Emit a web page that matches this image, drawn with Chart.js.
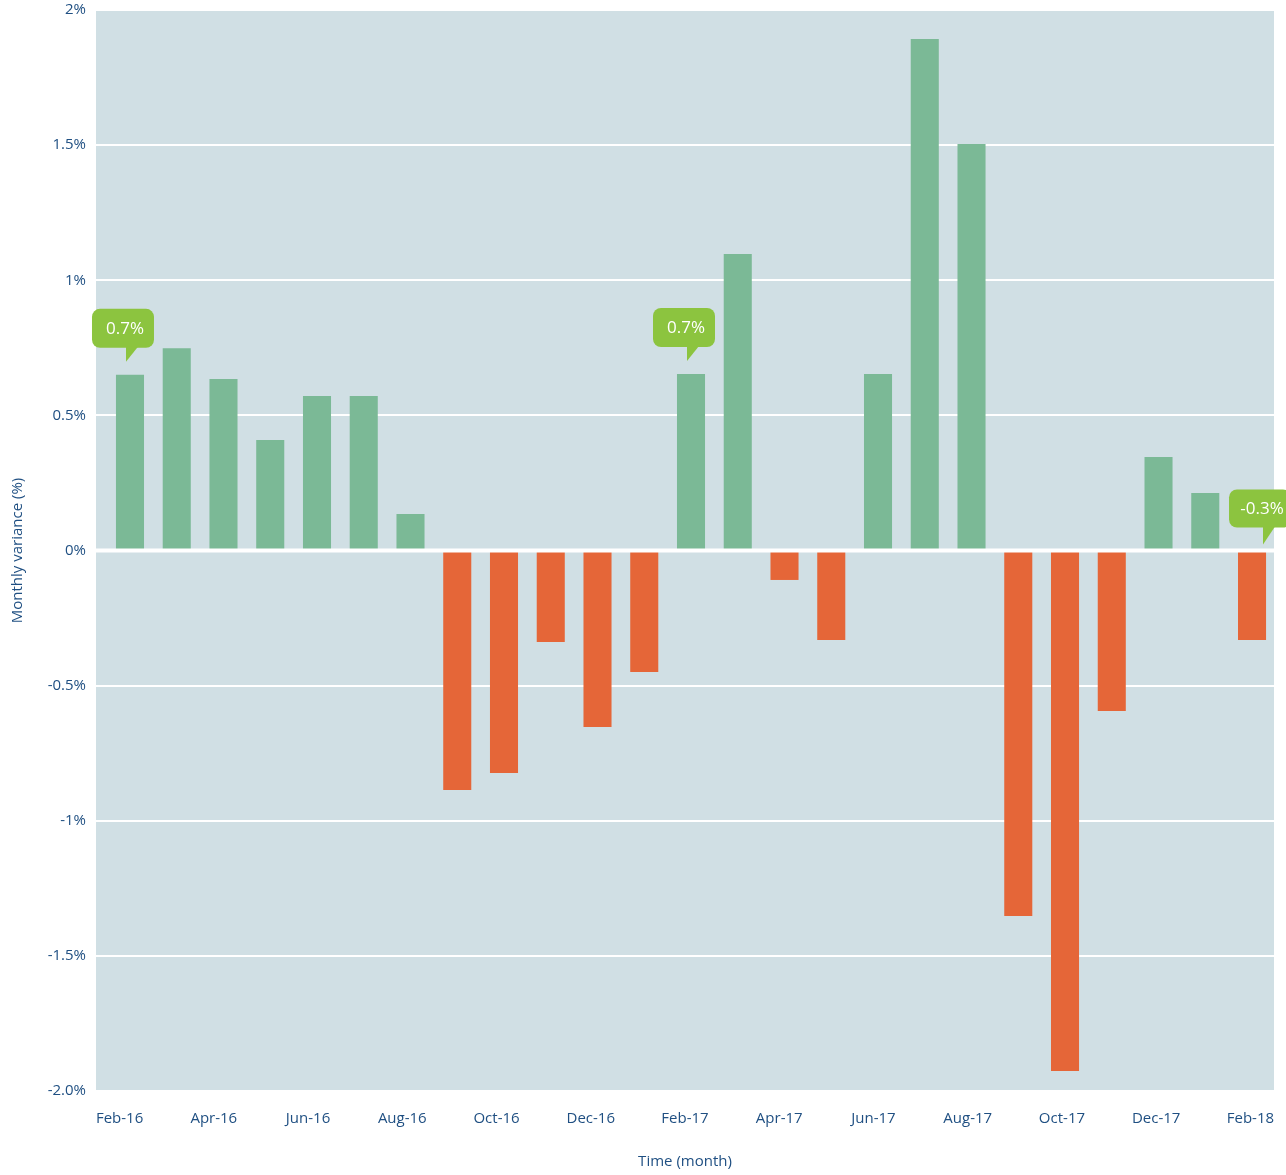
<!DOCTYPE html>
<html>
<head>
<meta charset="utf-8">
<script src="https://cdn.jsdelivr.net/npm/chart.js@4.4.0/dist/chart.umd.min.js"></script>
<style>
  html, body { margin: 0; padding: 0; background: #fff; }
  #wrap { width: 1286px; height: 1175px; }
</style>
</head>
<body>
<div id="wrap"><canvas id="varianceChart"></canvas></div>
<script>
// Months shown on the x axis (every other one is labelled)
const months = ['Feb-16', 'Mar-16', 'Apr-16', 'May-16', 'Jun-16', 'Jul-16', 'Aug-16', 'Sep-16',
    'Oct-16', 'Nov-16', 'Dec-16', 'Jan-17', 'Feb-17', 'Mar-17', 'Apr-17', 'May-17', 'Jun-17',
    'Jul-17', 'Aug-17', 'Sep-17', 'Oct-17', 'Nov-17', 'Dec-17', 'Jan-18', 'Feb-18'];

// Monthly variance in %
const variance = [0.65, 0.748, 0.635, 0.409, 0.572, 0.572, 0.135, -0.886,
    -0.823, -0.339, -0.653, -0.45, 0.653, 1.097, -0.109, -0.331, 0.653,
    1.893, 1.504, -1.352, -1.926, -0.594, 0.346, 0.213, -0.331];

const yTickLabels = ['-2.0%', '-1.5%', '-1%', '-0.5%', '0%', '0.5%', '1%', '1.5%', '2%'];

// Callout bubbles
const calloutIndex = [0, 12, 24];
const calloutText = ['0.7%', '0.7%', '-0.3%'];

const textColor = '#1f4f82';
const green = '#7bb996';
const red = '#e56638';

// Plot background + white zero line + callouts
const decorations = {
    id: 'decorations',
    beforeDraw(chart) {
        const { ctx, chartArea: a } = chart;
        ctx.save();
        ctx.fillStyle = '#d0dfe4';
        ctx.fillRect(a.left, a.top, a.right - a.left, a.bottom - a.top);
        ctx.restore();
    },
    afterDatasetsDraw(chart) {
        const { ctx, chartArea: a } = chart;
        const xs = chart.scales.xb;
        const ys = chart.scales.y;
        const zero = ys.getPixelForValue(0);
        ctx.save();
        ctx.strokeStyle = '#ffffff';
        ctx.lineWidth = 4;
        ctx.beginPath();
        ctx.moveTo(a.left, zero);
        ctx.lineTo(a.right, zero);
        ctx.stroke();

        calloutIndex.forEach(function (idx, k) {
            const v = variance[idx];
            const bx = xs.getPixelForValue(idx);
            let tipX, tipY, top, bottom;
            if (v >= 0) {
                tipX = bx - 4;
                tipY = ys.getPixelForValue(v) - 13;
                top = tipY - 53;
                bottom = tipY - 14;
            } else {
                tipX = bx + 11;
                tipY = zero - 6;
                top = tipY - 55;
                bottom = tipY - 17;
            }
            const left = tipX - 34;
            const right = tipX + 28;
            ctx.fillStyle = '#8cc43f';
            ctx.beginPath();
            ctx.roundRect(left, top, right - left, bottom - top, 8);
            ctx.fill();
            ctx.beginPath();
            ctx.moveTo(tipX, bottom - 1);
            ctx.lineTo(tipX, tipY);
            ctx.lineTo(tipX + 12, bottom - 1);
            ctx.closePath();
            ctx.fill();
            ctx.fillStyle = '#ffffff';
            ctx.font = '17px "Open Sans"';
            ctx.textAlign = 'center';
            ctx.textBaseline = 'middle';
            ctx.fillText(calloutText[k], (left + right) / 2 + 2, (top + bottom) / 2 + 1);
        });
        ctx.restore();
    }
};

const ctx = document.getElementById('varianceChart').getContext('2d');

new Chart(ctx, {
    type: 'bar',
    data: {
        labels: months,
        datasets: [{
            label: 'Monthly variance',
            data: variance.map(function (v, i) { return { x: i, y: v }; }),
            xAxisID: 'xb',
            backgroundColor: function (c) { return c.raw && c.raw.y < 0 ? red : green; },
            borderWidth: 0,
            barPercentage: 0.6,
            categoryPercentage: 1.0
        }]
    },
    options: {
        responsive: true,
        maintainAspectRatio: false,
        animation: false,
        layout: { padding: { top: 10, right: 12, left: 0, bottom: 0 } },
        scales: {
            xb: {
                type: 'linear',
                display: false,
                offset: false,
                min: -0.727,
                max: 24.47
            },
            x: {
                type: 'category',
                offset: true,
                grid: { display: false },
                border: { display: false },
                ticks: {
                    color: textColor,
                    font: { family: 'Open Sans', size: 15 },
                    padding: 11,
                    autoSkip: false,
                    maxRotation: 0,
                    callback: function (value, index) {
                        return index % 2 === 0 ? months[index] : '';
                    }
                },
                title: {
                    display: true,
                    text: 'Time (month)',
                    color: textColor,
                    font: { family: 'Open Sans', size: 15 },
                    padding: { top: 0, bottom: 4 }
                },
                afterFit: function (scale) {
                    scale.height = 84;
                    scale.paddingLeft = 0;
                    scale.paddingRight = 0;
                }
            },
            y: {
                min: -2,
                max: 2,
                grid: {
                    color: '#ffffff',
                    lineWidth: 2,
                    drawTicks: false
                },
                border: { display: false },
                ticks: {
                    stepSize: 0.5,
                    color: textColor,
                    font: { family: 'Open Sans', size: 15 },
                    padding: 10,
                    callback: function (value, index) { return yTickLabels[index]; }
                },
                title: {
                    display: true,
                    text: 'Monthly variance (%)',
                    color: textColor,
                    font: { family: 'Open Sans', size: 15 },
                    padding: { top: 9, bottom: 0 }
                },
                afterFit: function (scale) {
                    scale.width = 96;
                    scale.paddingTop = 0;
                    scale.paddingBottom = 0;
                }
            }
        },
        plugins: {
            legend: { display: false },
            tooltip: { enabled: false }
        }
    },
    plugins: [decorations]
});
</script>
</body>
</html>
